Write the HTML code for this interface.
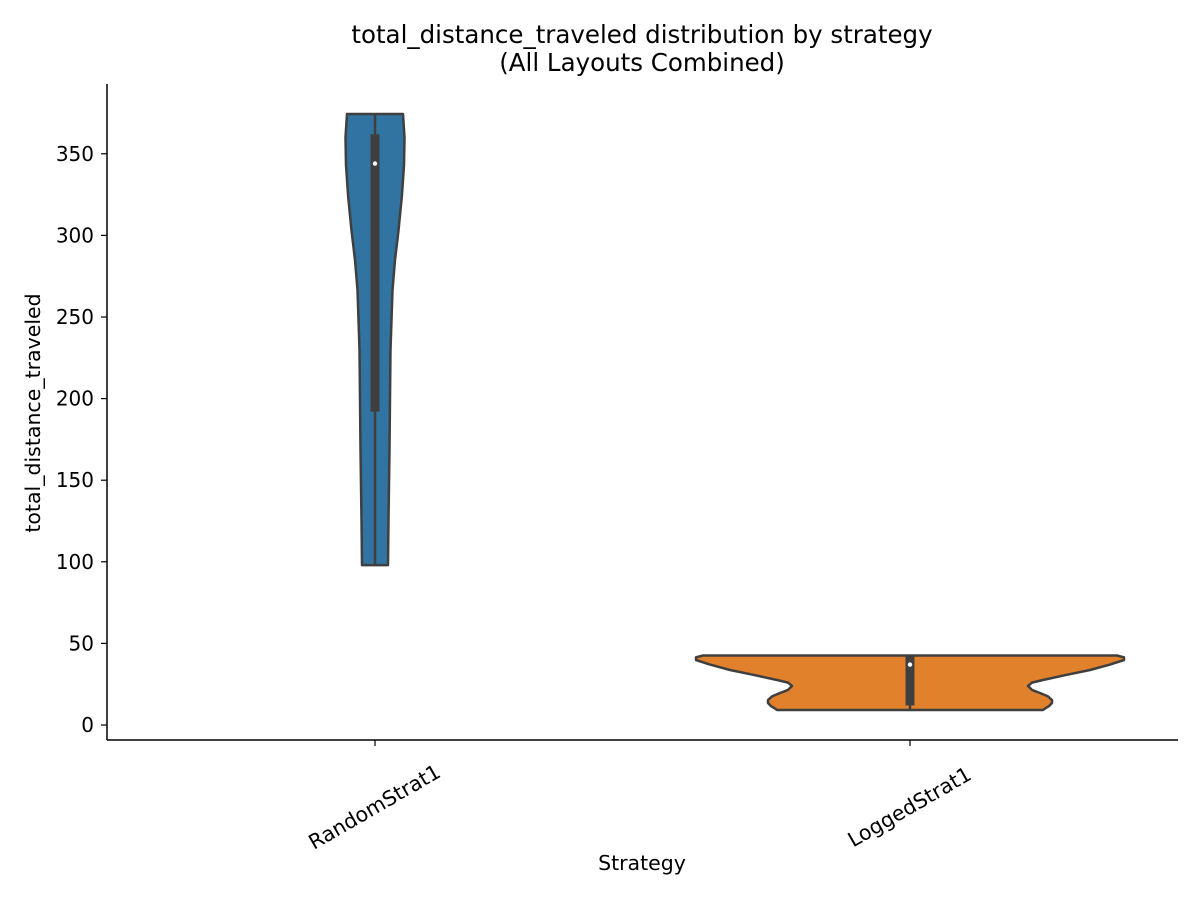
<!DOCTYPE html>
<html><head><meta charset="utf-8"><style>
body{margin:0;background:#fff;}
svg text{font-family:"DejaVu Sans","Liberation Sans",sans-serif;fill:#000;}
</style></head><body>
<svg id="chart" width="1200" height="900">
<text x="642" y="43" text-anchor="middle" font-size="24.5">total_distance_traveled distribution by strategy</text>
<text x="642" y="71" text-anchor="middle" font-size="24.5">(All Layouts Combined)</text>
<g id="plot"></g>
<text transform="translate(40,413) rotate(-90)" text-anchor="middle" font-size="20.5">total_distance_traveled</text>
<text x="642" y="870" text-anchor="middle" font-size="20.5">Strategy</text>
</svg>
<script>
const categories = ["RandomStrat1", "LoggedStrat1"];
const colors = ["#3274a1", "#e1812c"];
const yTicks = [0, 50, 100, 150, 200, 250, 300, 350];
// density profile: values and half-widths (in px of violin)
const randomLevels = [98, 125.6, 168.5, 200, 230, 266.5, 285, 303, 325, 343, 360, 374.4];
const randomHalf = [13, 13.5, 14.5, 15, 15.5, 17.5, 20, 23.5, 27, 29, 29.5, 28];
const loggedLevels = [9.2, 10.5, 11.6, 13.5, 15.3, 17.5, 19.6, 21.5, 23.9, 26, 27.6, 30.5, 33.7, 37, 39.8, 41.5, 42.6];
const loggedHalf = [133, 136, 139, 142, 142, 138, 130, 122, 118, 122, 133, 155, 180, 200, 214, 214, 207];
const boxQ1 = [192, 12];
const boxQ3 = [362, 42];
const medians = [344, 37];
const whiskLo = [98, 9.2];
const whiskHi = [374.4, 42.6];

const NS = "http://www.w3.org/2000/svg";
const plot = document.getElementById('plot');
const yScale = v => 725 - v * 1.632;
const xScale = i => 375 + i * 535;
function mk(tag, attrs, parent) {
  const e = document.createElementNS(NS, tag);
  for (const k in attrs) e.setAttribute(k, attrs[k]);
  (parent || plot).appendChild(e);
  return e;
}
const levelsAll = [randomLevels, loggedLevels];
const halfAll = [randomHalf, loggedHalf];
categories.forEach((c, i) => {
  const cx = xScale(i), L = levelsAll[i], H = halfAll[i];
  const right = L.map((v, j) => [cx + H[j], yScale(v)]);
  const left = L.map((v, j) => [cx - H[j], yScale(v)]).reverse();
  const pts = right.concat(left);
  const d = "M" + pts.map(p => p[0].toFixed(1) + "," + p[1].toFixed(1)).join(" L") + "Z";
  const v = mk('path', {d, fill: colors[i], stroke: '#3f3f3f', 'stroke-width': 2.5, 'stroke-linejoin': 'round'});
  
  
  const w = mk('line', {x1: cx, x2: cx, y1: yScale(whiskLo[i]), y2: yScale(whiskHi[i]), stroke: '#3f3f3f', 'stroke-width': 2.5});
  
  
  const b = mk('rect', {x: cx - 4.5, width: 9, y: yScale(boxQ3[i]), height: yScale(boxQ1[i]) - yScale(boxQ3[i]), fill: '#3f3f3f'});
  
  
  const m = mk('circle', {cx, cy: yScale(medians[i]), r: 2.2, fill: '#fff'});
  
  
  const t = mk('line', {x1: cx, x2: cx, y1: 740, y2: 746, stroke: '#000', 'stroke-width': 1.2});
  
  
  const lb = mk('text', {x: 0, y: 0, 'font-size': 20.5, 'text-anchor': 'middle', transform: `translate(${cx + 3},${813}) rotate(-30)`});
  lb.textContent = c;
  
  
});
yTicks.forEach(v => {
  const y = yScale(v);
  const t = mk('line', {x1: 101, x2: 107, y1: y, y2: y, stroke: '#000', 'stroke-width': 1.2});
  
  
  const l = mk('text', {x: 94, y: y + 7, 'font-size': 20, 'text-anchor': 'end'});
  l.textContent = v;
  
  
});
const ya = mk('line', {x1: 107, x2: 107, y1: 84, y2: 740, stroke: '#000', 'stroke-width': 1.5});


const xa = mk('line', {x1: 107, x2: 1178, y1: 740, y2: 740, stroke: '#000', 'stroke-width': 1.5});


</script>
</body></html>
